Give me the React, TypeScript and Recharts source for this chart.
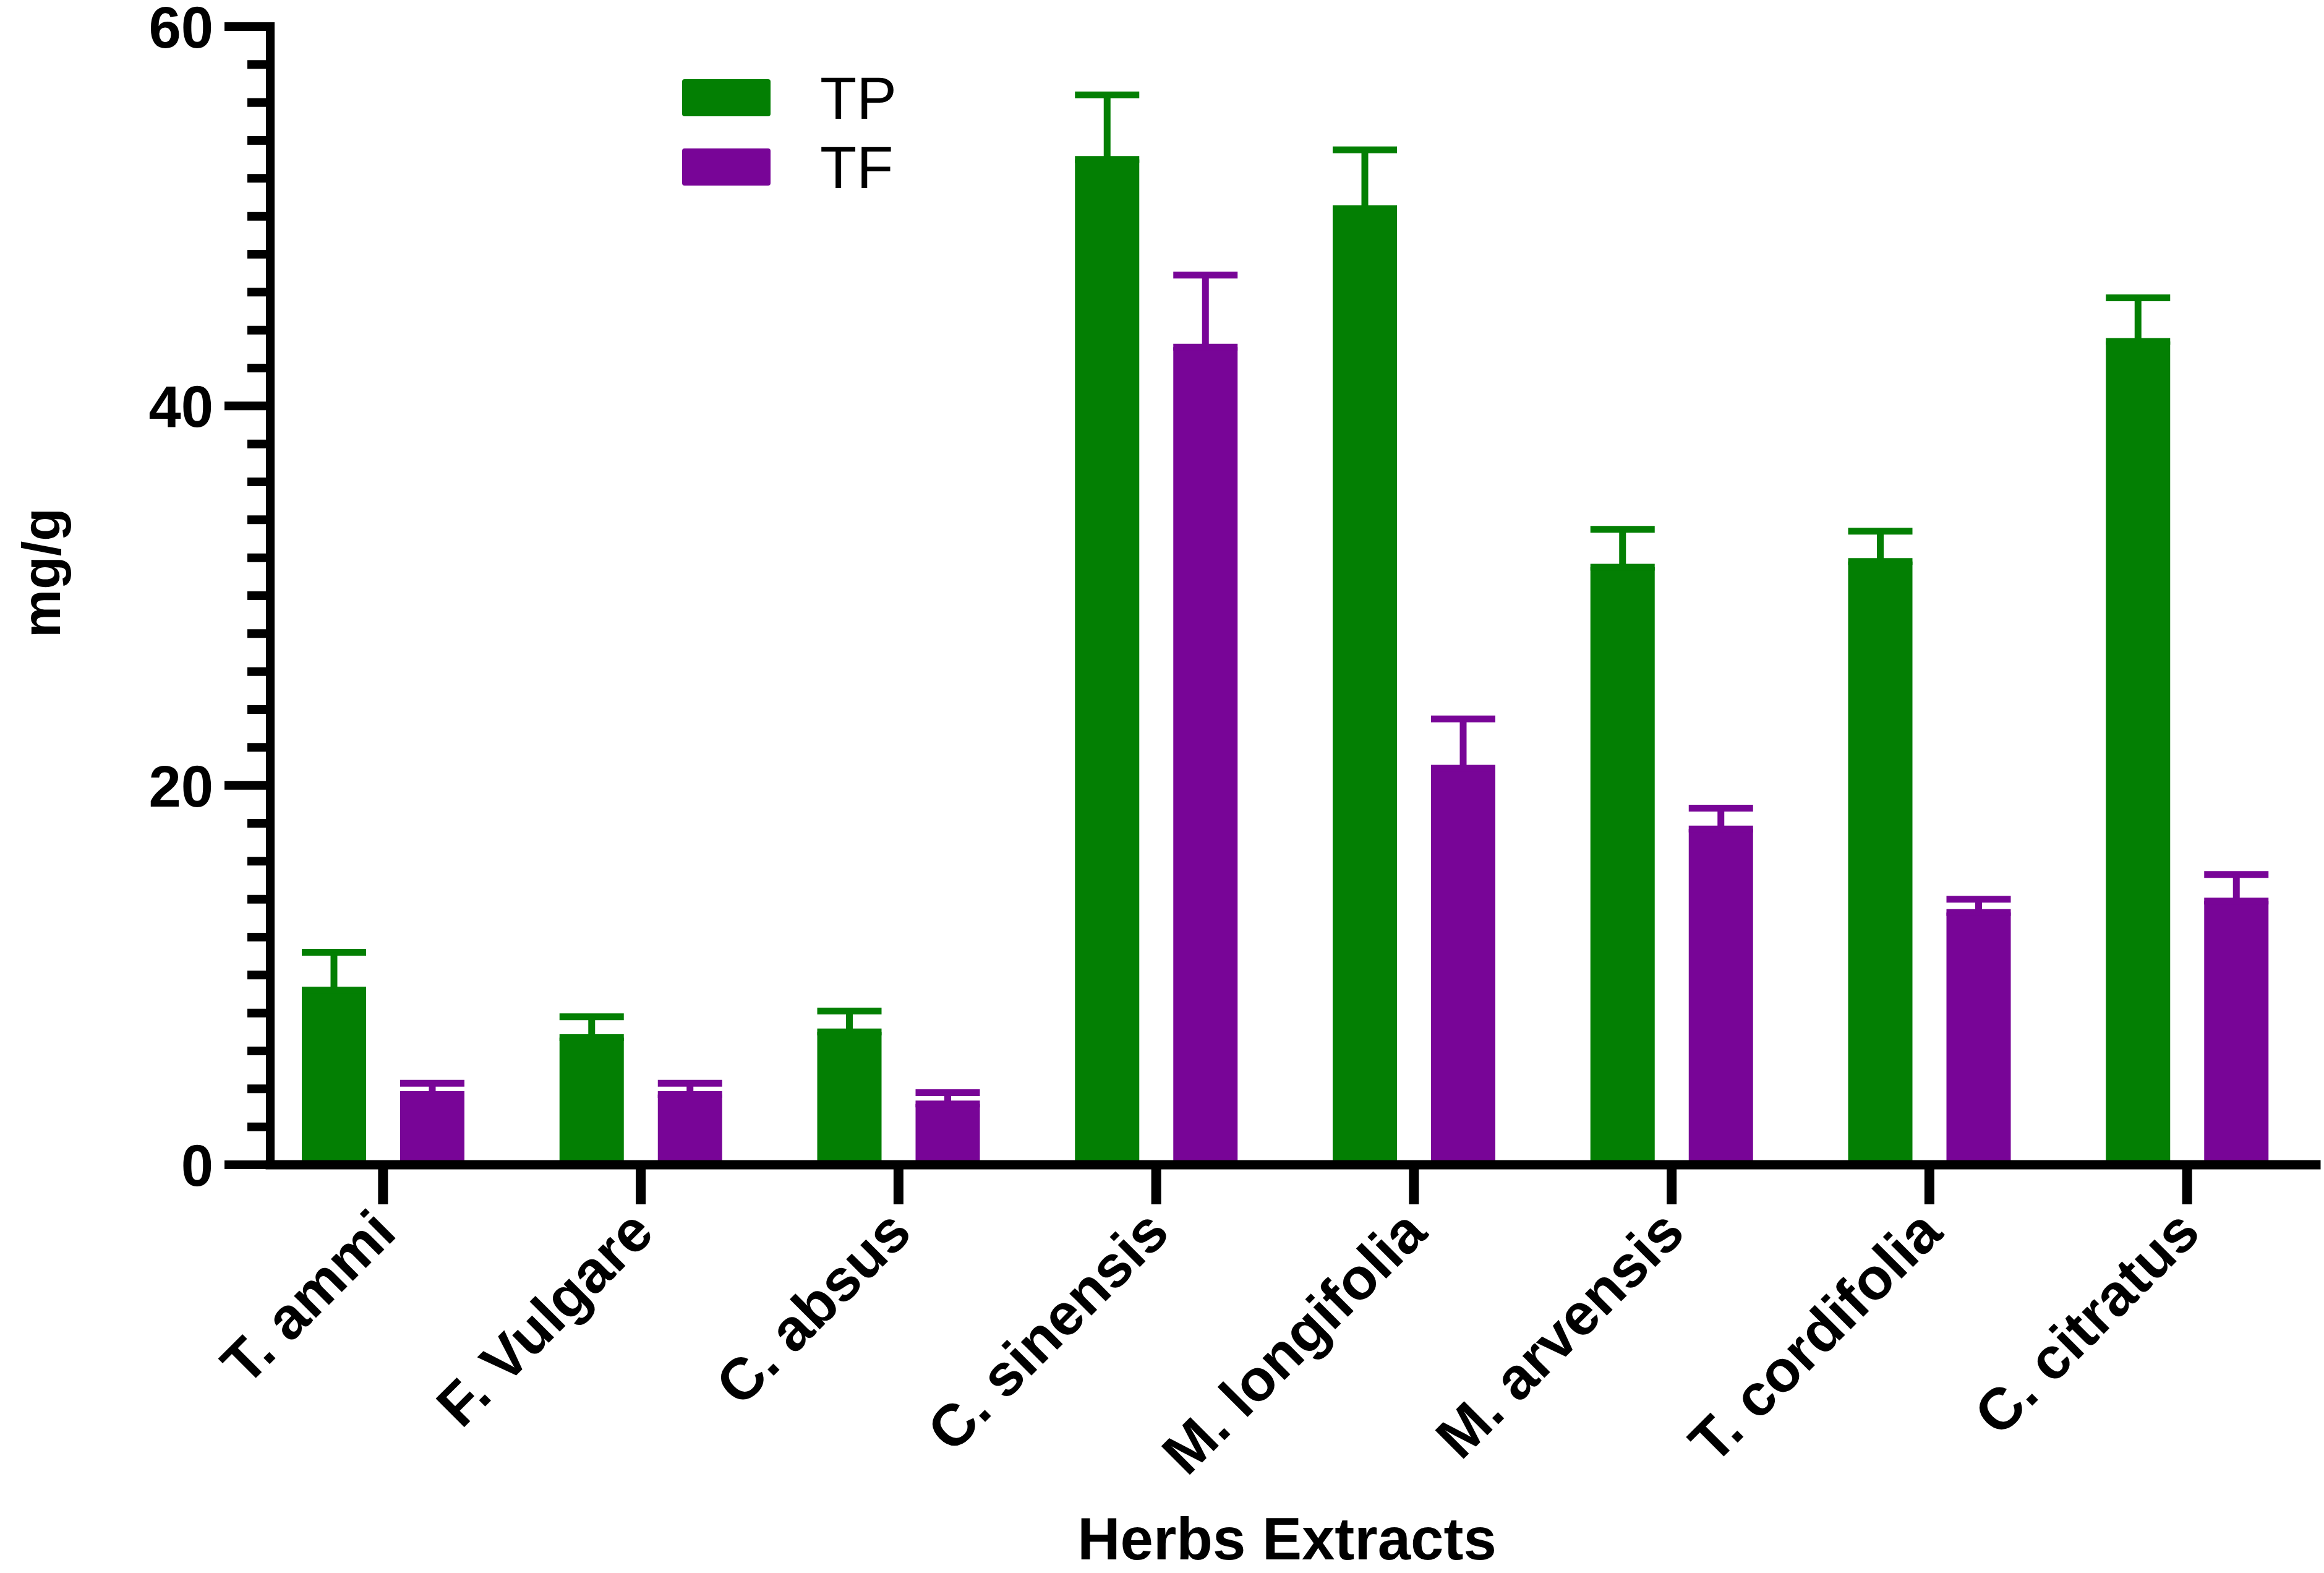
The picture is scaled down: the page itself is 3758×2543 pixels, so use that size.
import { BarChart, Bar, XAxis, YAxis, ErrorBar, Legend } from 'recharts'

const herbs = ['T. ammi', 'F. Vulgare', 'C. absus', 'C. sinensis', 'M. longifolia', 'M. arvensis', 'T. cordifolia', 'C. citratus']
const tpMeans = [9.2, 6.7, 7.0, 53.0, 50.4, 31.5, 31.8, 43.4]
const tpErrors = [2.0, 1.1, 1.1, 3.4, 3.1, 2.0, 1.6, 2.3]
const tfMeans = [3.7, 3.7, 3.2, 43.1, 20.9, 17.7, 13.3, 13.9]
const tfErrors = [0.6, 0.6, 0.6, 3.8, 2.6, 1.1, 0.7, 1.4]
const yTicks = [0, 2, 4, 6, 8, 10, 12, 14, 16, 18, 20, 22, 24, 26, 28, 30, 32, 34, 36, 38, 40, 42, 44, 46, 48, 50, 52, 54, 56, 58, 60]
const yMajor = [0, 20, 40, 60]
const seriesOrder = ['TP', 'TF']

const GREEN = '#037f03'
const PURPLE = '#780597'
const FONT = '"Liberation Sans", Arial, Helvetica, sans-serif'

const data = herbs.map((name, i) => ({
  name,
  TP: tpMeans[i],
  TF: tfMeans[i],
  tpErr: [0, tpErrors[i]],
  tfErr: [0, tfErrors[i]],
}))

function YTick({ x, y, payload }: any) {
  const major = yMajor.includes(payload.value)
  const len = major ? 74 : 37
  return (
    <g>
      <line x1={x} y1={y} x2={x - len} y2={y} stroke="#000" strokeWidth={14} />
      {major && (
        <text x={x - 92} y={y} dy="0.36em" textAnchor="end" fontFamily={FONT} fontWeight="bold" fontSize={94} fill="#000">
          {payload.value}
        </text>
      )}
    </g>
  )
}

function XTick({ x, y, payload }: any) {
  const tx = x + 25
  const ty = y + 50
  return (
    <text
      x={tx}
      y={ty}
      transform={`rotate(-45, ${tx}, ${ty})`}
      textAnchor="end"
      fontFamily={FONT}
      fontWeight="bold"
      fontSize={95}
      fill="#000"
    >
      {payload.value}
    </text>
  )
}

function LegendBox({ payload }: any) {
  const items = [...(payload || [])].sort(
    (a: any, b: any) => seriesOrder.indexOf(a.value) - seriesOrder.indexOf(b.value)
  )
  return (
    <div style={{ fontFamily: FONT }}>
      {items.map((p: any) => (
        <div key={p.value} style={{ display: 'flex', alignItems: 'center', height: 112 }}>
          <span style={{ width: 143, height: 60, background: p.color, borderRadius: 4, display: 'inline-block' }} />
          <span style={{ marginLeft: 80, fontSize: 97, color: '#000', lineHeight: 1 }}>{p.value}</span>
        </div>
      ))}
    </div>
  )
}

export default function App() {
  return (
    <div style={{ position: 'absolute', left: 0, top: 0, width: 3758, height: 2543, background: '#fff' }}>
      <BarChart
        width={3758}
        height={2543}
        data={data}
        margin={{ top: 43, right: 13, bottom: 0, left: 0 }}
        barGap={55}
      >
        <XAxis
          dataKey="name"
          height={660}
          padding={{ left: -26, right: 0 }}
          axisLine={{ stroke: '#000', strokeWidth: 15, strokeLinecap: 'square' }}
          tickLine={{ stroke: '#000', strokeWidth: 16 }}
          tickSize={64}
          tickMargin={0}
          tick={<XTick />}
          interval={0}
          label={{
            content: ({ viewBox }: any) => (
              <text
                x={viewBox.x + viewBox.width / 2 - 10}
                y={2521}
                textAnchor="middle"
                fontFamily={FONT}
                fontWeight="bold"
                fontSize={96}
                fill="#000"
              >
                Herbs Extracts
              </text>
            ),
          }}
        />
        <YAxis
          width={437}
          domain={[0, 60]}
          ticks={yTicks}
          interval={0}
          allowDataOverflow
          axisLine={{ stroke: '#000', strokeWidth: 14, strokeLinecap: 'square' }}
          tickLine={false}
          tickSize={0}
          tickMargin={0}
          tick={<YTick />}
          label={{
            content: () => (
              <text
                x={97}
                y={926}
                transform="rotate(-90, 97, 926)"
                textAnchor="middle"
                fontFamily={FONT}
                fontWeight="bold"
                fontSize={88}
                fill="#000"
              >
                mg/g
              </text>
            ),
          }}
        />
        <Legend
          layout="vertical"
          align="center"
          verticalAlign="middle"
          content={<LegendBox />}
          wrapperStyle={{ position: 'absolute', left: 1103, top: 102, width: 600 }}
        />
        <Bar dataKey="TP" name="TP" fill={GREEN} barSize={104} isAnimationActive={false}>
          <ErrorBar dataKey="tpErr" direction="y" width={52} strokeWidth={11} stroke={GREEN} />
        </Bar>
        <Bar dataKey="TF" name="TF" fill={PURPLE} barSize={104} isAnimationActive={false}>
          <ErrorBar dataKey="tfErr" direction="y" width={52} strokeWidth={11} stroke={PURPLE} />
        </Bar>
      </BarChart>
    </div>
  )
}
